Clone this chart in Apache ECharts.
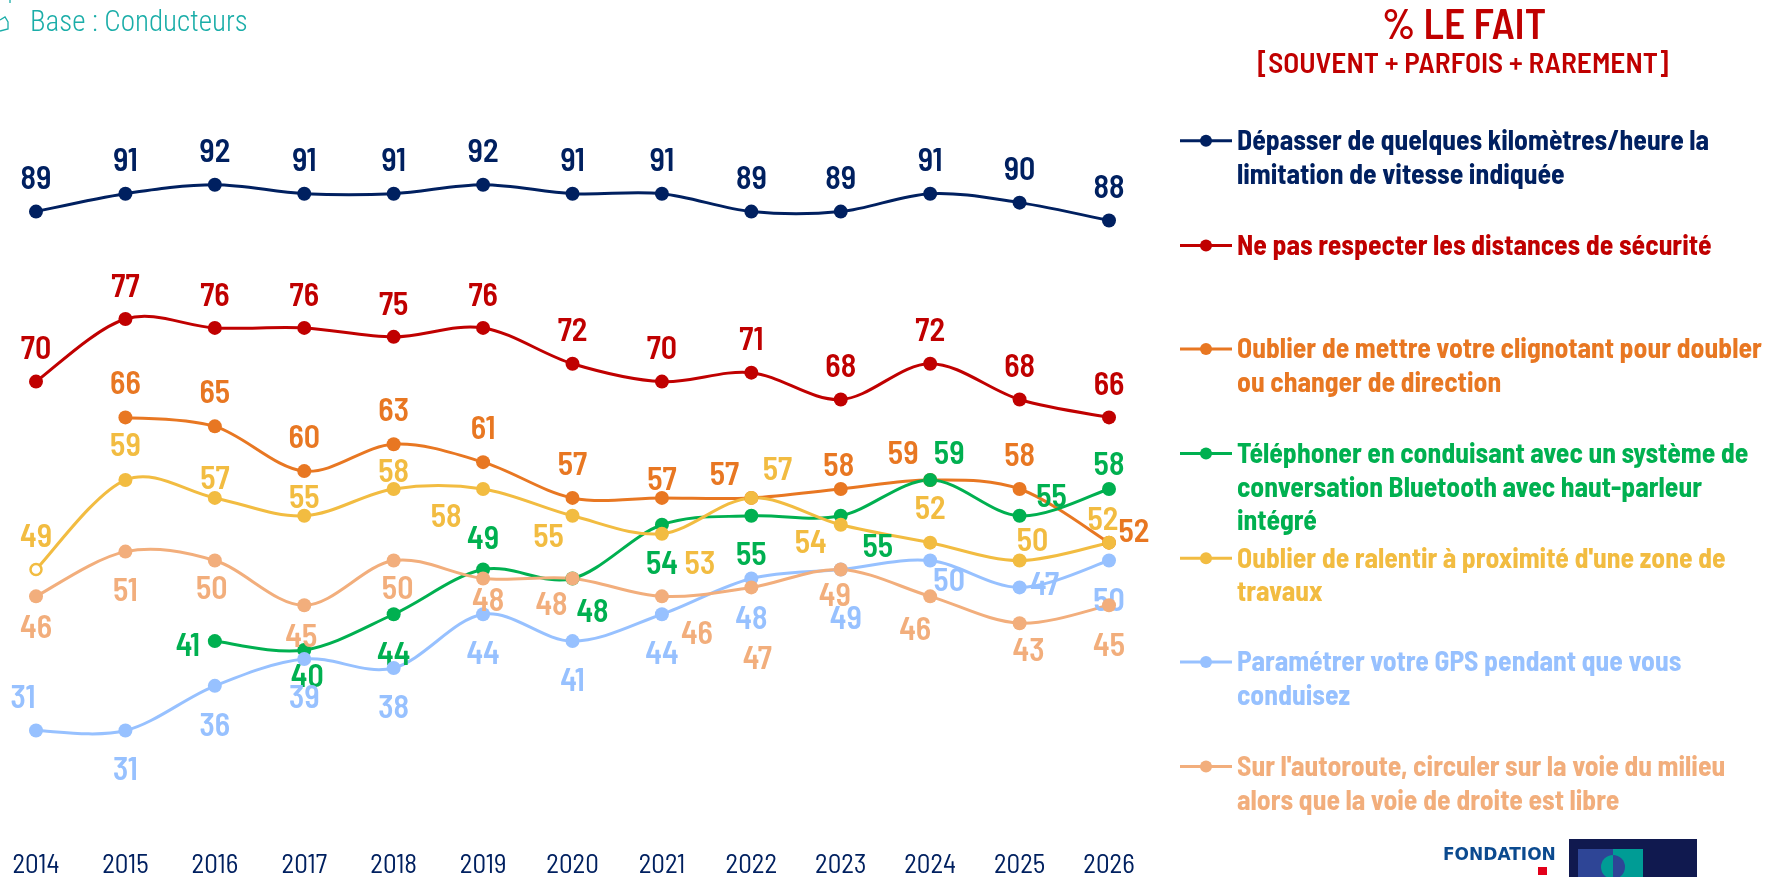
<!DOCTYPE html>
<html><head><meta charset="utf-8">
<style>html,body{margin:0;padding:0;background:#fff}#c{width:1765px;height:877px}</style>
<script src="https://cdn.jsdelivr.net/npm/echarts@6/dist/echarts.min.js"></script>
</head><body><div id="c"></div>
<script>
const years = ['2014','2015','2016','2017','2018','2019','2020','2021','2022','2023','2024','2025','2026'];
const depasser = [89,91,92,91,91,92,91,91,89,89,91,90,88];
const distances = [70,77,76,76,75,76,72,70,71,68,72,68,66];
const clignotant = [null,66,65,60,63,61,57,57,57,58,59,58,52];
const telephone = [null,null,41,40,44,49,48,54,55,55,59,55,58];
const ralentir = [49,59,57,55,58,58,55,53,57,54,52,50,52];
const gps = [31,31,36,39,38,44,41,44,48,49,50,47,50];
const autoroute = [46,51,50,45,50,48,48,46,47,49,46,43,45];

const nudge = {
  depasser: years.map(()=>[0,-34]),
  distances: years.map(()=>[0,-34]),
  clignotant: [[0,0],[0,-35],[0,-35],[0,-35],[0,-35],[0,-35],[0,-35],[0,-20],[-27,-25],[-2,-25],[-27,-28],[0,-35],[25,-12]],
  telephone: [[0,0],[0,0],[-27,3],[3,25],[0,39],[0,-32],[20,32],[0,38],[0,38],[37,30],[19,-28],[32,-20],[0,-26]],
  ralentir: [[0,-34],[0,-36],[0,-21],[0,-19],[0,-19],[-37,26],[-24,20],[38,29],[26,-30],[-30,17],[0,-35],[13,-21],[-6,-24]],
  gps: [[-13,-34],[0,38],[0,38],[0,37],[0,38],[0,38],[0,38],[0,38],[0,39],[5,48],[19,19],[25,-4],[0,39]],
  autoroute: [[0,30],[0,38],[-3,27],[-3,30],[4,27],[5,21],[-21,25],[35,36],[6,70],[-6,25],[-15,32],[9,26],[0,39]]
};

const defs = [
  {k:'depasser', d:depasser, c:'#002060', lines:['Dépasser de quelques kilomètres/heure la','limitation de vitesse indiquée'], y:139.6},
  {k:'distances', d:distances, c:'#C00000', lines:['Ne pas respecter les distances de sécurité'], y:244.3},
  {k:'clignotant', d:clignotant, c:'#E87722', lines:['Oublier de mettre votre clignotant pour doubler','ou changer de direction'], y:347.8},
  {k:'telephone', d:telephone, c:'#00B050', lines:['Téléphoner en conduisant avec un système de','conversation Bluetooth avec haut-parleur','intégré'], y:452.5},
  {k:'ralentir', d:ralentir, c:'#F2BC41', lines:["Oublier de ralentir à proximité d'une zone de",'travaux'], y:557.2},
  {k:'gps', d:gps, c:'#97C1FF', lines:['Paramétrer votre GPS pendant que vous','conduisez'], y:660.8},
  {k:'autoroute', d:autoroute, c:'#F2AE7C', lines:["Sur l'autoroute, circuler sur la voie du milieu",'alors que la voie de droite est libre'], y:765.5}
];
const FN = '"Barlow Semi Condensed","Roboto Condensed","Roboto",sans-serif';
const LH = 33.7, LF = 27.7;

function curveItem(vals){
  return function(params, api){
    const i = api.value(0), n = vals.length;
    if(i>=n-1 || vals[i]==null || vals[i+1]==null) return null;
    const pt = j => api.coord([j, vals[j]]);
    const p1 = pt(i), p2 = pt(i+1);
    const p0 = (i>0 && vals[i-1]!=null) ? pt(i-1) : p1;
    const p3 = (i+2<n) ? pt(i+2) : p2;
    const c1 = [p1[0]+(p2[0]-p0[0])/6, p1[1]+(p2[1]-p0[1])/6];
    const c2 = [p2[0]-(p3[0]-p1[0])/6, p2[1]-(p3[1]-p1[1])/6];
    return {type:'bezierCurve',
      shape:{x1:p1[0],y1:p1[1],x2:p2[0],y2:p2[1],cpx1:c1[0],cpy1:c1[1],cpx2:c2[0],cpy2:c2[1]},
      style:{stroke:api.visual('color'),lineWidth:3,fill:null}};
  };
}

const series = [];
defs.forEach((s,idx) => {
  series.push({
    name:s.k+'_courbe', type:'custom', coordinateSystem:'cartesian2d',
    renderItem:curveItem(s.d), itemStyle:{color:s.c}, silent:true, clip:false,
    z:2+idx*0.01, encode:{x:0,y:1},
    data:s.d.map((v,i)=>[i,v==null?'-':v])
  });
  series.push({
    name:s.k, type:'line', symbol:'circle', symbolSize:14, showAllSymbol:true,
    lineStyle:{opacity:0}, itemStyle:{color:s.c}, z:3+idx*0.01, clip:false,
    label:{show:true, position:'inside', fontFamily:FN, fontSize:32, fontWeight:600, color:s.c},
    data:s.d.map((v,i)=>{
      if(v==null) return v;
      const nd = nudge[s.k][i];
      const o = {value:v, label:{offset:[nd[0],nd[1]+1]}};
      if(s.k==='ralentir' && i===0){ o.itemStyle={color:'#fff',borderColor:s.c,borderWidth:2.5}; o.symbolSize=11; }
      return o;
    })
  });
});

const legend = defs.map(s => {
  const n = s.lines.length, pad = n-1;
  const txt = '\n'.repeat(pad)+s.lines.join('\n');
  const total = (n+pad)*LH;
  return {
    data:[s.k], left:1178.5, top:s.y-total/2+1.1, itemWidth:52, itemHeight:15, itemGap:0,
    selectedMode:false, padding:0,
    formatter:()=>txt,
    textStyle:{color:s.c,fontFamily:FN,fontSize:LF,fontWeight:700,lineHeight:LH},
    itemStyle:{color:s.c}, lineStyle:{color:s.c,width:3,opacity:1}
  };
});

const chart = echarts.init(document.getElementById('c'));
chart.setOption({
  animation:false, backgroundColor:'#fff',
  grid:{left:36,right:656,top:113.15,bottom:47.85,containLabel:false},
  xAxis:{type:'category',data:years,boundaryGap:false,
    axisLine:{show:false},axisTick:{show:false},splitLine:{show:false},
    axisLabel:{margin:21,color:'#002060',fontFamily:FN,fontSize:27,fontWeight:400,interval:0,showMinLabel:true,showMaxLabel:true}},
  yAxis:{type:'value',min:20,max:100,interval:20,show:false,splitLine:{show:false}},
  legend, series,
  title:[
    {text:'% LE FAIT',left:1459,top:-1,textAlign:'center',textStyle:{color:'#C00000',fontFamily:FN,fontSize:41.5,fontWeight:600}},
    {text:'[SOUVENT + PARFOIS + RAREMENT]',left:1458,top:44,textAlign:'center',textStyle:{color:'#C00000',fontFamily:FN,fontSize:29.4,fontWeight:600}},
    {text:'Base : Conducteurs',left:25,top:4,textStyle:{color:'#1AADA8',fontFamily:'"Roboto Condensed","Roboto",sans-serif',fontSize:29,fontWeight:300}}
  ],
  graphic:[
    {type:'polyline',shape:{points:[[0,20],[5,17],[8,22],[8,29],[0,31]]},style:{stroke:'#1AADA8',lineWidth:1.3,fill:null}},
    {type:'line',shape:{x1:10,y1:0,x2:10,y2:3},style:{stroke:'#1AADA8',lineWidth:1.3}},
    {type:'text',x:1443,y:847,style:{text:'FONDATION',fill:'#0B4A8F',font:'bold 17px "DejaVu Sans",sans-serif'}},
    {type:'rect',shape:{x:1569,y:839,width:128,height:38},style:{fill:'#10194F'}},
    {type:'rect',shape:{x:1578,y:849,width:35,height:28},style:{fill:'#2E4596'}},
    {type:'rect',shape:{x:1613,y:849,width:30,height:28},style:{fill:'#009C95'}},
    {type:'sector',shape:{cx:1613,cy:867,r:12,startAngle:Math.PI/2,endAngle:Math.PI*1.5},style:{fill:'#009C95'}},
    {type:'sector',shape:{cx:1613,cy:867,r:12,startAngle:-Math.PI/2,endAngle:Math.PI/2},style:{fill:'#2E4596'}},
    {type:'rect',shape:{x:1538,y:867,width:9,height:8},style:{fill:'#E2001A'}}
  ]
});
</script></body></html>
